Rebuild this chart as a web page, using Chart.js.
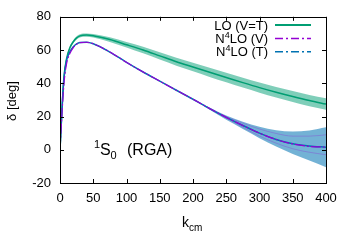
<!DOCTYPE html>
<html>
<head>
<meta charset="utf-8">
<script src="https://cdn.jsdelivr.net/npm/chart.js@4"></script>
<style>
  html, body { margin: 0; padding: 0; background: #fff; }
  #wrap { width: 350px; height: 245px; }
</style>
</head>
<body>
<div id="wrap"><canvas id="phaseChart" width="350" height="245"></canvas></div>
<script>
// momentum grid (k_cm) and phase shifts in degrees
const kcm = [0, 3, 6, 10, 15, 20, 25, 30, 40, 50, 75, 100, 125, 150, 175, 200, 225, 250, 275, 300, 325, 350, 375, 400];

const loCentral = [0, 24, 44, 55, 61.5, 65, 67.3, 68.5, 69, 68.6, 66.3, 63.2, 60, 56.5, 53, 49.8, 46.6, 43.5, 40.4, 37.4, 34.6, 32, 29.6, 27.5];
const loUpper = [0, 24.5, 44.7, 55.8, 62.4, 65.9, 68.3, 69.5, 70, 69.7, 67.7, 64.9, 62, 58.7, 55.4, 52.4, 49.4, 46.4, 43.4, 40.5, 37.8, 35.3, 33, 31];
const loLower = [0, 23.5, 43.3, 54.2, 60.6, 64.1, 66.3, 67.5, 68, 67.5, 64.9, 61.5, 58, 54.3, 50.6, 47.2, 43.8, 40.6, 37.4, 34.3, 31.4, 28.7, 26.2, 24];

const n4loV = [0, 22, 40, 52, 58, 61.5, 63.5, 64.5, 64.7, 63.8, 58.8, 52.6, 46.8, 41.3, 35.8, 30.4, 24.8, 19.5, 14.6, 10, 6.2, 3.5, 2, 1.6];
const n4loT = [0, 25, 43, 54, 59, 62, 63.7, 64.5, 64.7, 63.8, 58.8, 52.6, 46.8, 41.3, 35.8, 30.4, 24.8, 19.5, 14.6, 10, 6.2, 3.6, 2.3, 1.5];
// outer band (T) and the narrower inner band (V)
const n4loUpper = [null, null, null, null, null, null, null, null, null, null, null, null, null, null, null, 30.4, 25.5, 20.6, 16.8, 13.8, 11.8, 11, 11.6, 13.5];
const n4loLower = [null, null, null, null, null, null, null, null, null, null, null, null, null, null, null, 30.4, 24, 18, 12.5, 7, 2, -2.5, -6.5, -10.5];
const n4loInnerUp = [null, null, null, null, null, null, null, null, null, null, null, null, null, null, null, null, 25, 20, 16, 12.5, 9.8, 8.2, 8.2, 9];
const n4loInnerLo = [null, null, null, null, null, null, null, null, null, null, null, null, null, null, null, null, 24.6, 19, 13.5, 8.2, 4, 0.6, -1.5, -3];

const xTicks = [0, 50, 100, 150, 200, 250, 300, 350, 400];
const yTicks = [-20, 0, 20, 40, 60, 80];

const GREEN = '#009e73';
const PURPLE = '#9400d3';
const BLUE = '#0072b2';
const FONT = '"Liberation Sans", Arial, sans-serif';

function pts(ys) {
    return kcm.map((k, i) => ({ x: k, y: ys[i] }));
}

// draw a string made of normal / sup / sub pieces
function drawRich(ctx, parts, x, y, align) {
    let total = 0;
    parts.forEach(p => {
        ctx.font = p.size + 'px ' + FONT;
        p.w = ctx.measureText(p.t).width;
        total += p.w;
    });
    let cx = align === 'right' ? x - total : x;
    ctx.textAlign = 'left';
    ctx.textBaseline = 'alphabetic';
    parts.forEach(p => {
        ctx.font = p.size + 'px ' + FONT;
        ctx.fillText(p.t, p.x !== undefined ? p.x : cx, y + (p.dy || 0));
        cx += p.w;
    });
}

const decorations = {
    id: 'decorations',
    afterDraw(chart) {
        const ctx = chart.ctx;
        const a = chart.chartArea;
        const xs = chart.scales.x, ys = chart.scales.y;
        ctx.save();
        ctx.strokeStyle = '#000';
        ctx.lineWidth = 1;
        ctx.setLineDash([]);
        ctx.beginPath();
        xTicks.forEach(t => {
            const px = Math.round(xs.getPixelForValue(t)) + 0.5;
            ctx.moveTo(px, a.bottom); ctx.lineTo(px, a.bottom - 4);
            ctx.moveTo(px, a.top); ctx.lineTo(px, a.top + 4);
        });
        yTicks.forEach(t => {
            const py = Math.round(ys.getPixelForValue(t)) + 0.5;
            ctx.moveTo(a.left, py); ctx.lineTo(a.left + 4, py);
            ctx.moveTo(a.right, py); ctx.lineTo(a.right - 4, py);
        });
        ctx.stroke();
        ctx.strokeRect(Math.round(a.left) + 0.5, Math.round(a.top) + 0.5,
            Math.round(a.right - a.left), Math.round(a.bottom - a.top));

        // legend
        const rows = [
            { parts: [{ t: 'LO (V=T)', size: 13 }], color: GREEN, dash: [], width: 2 },
            { parts: [{ t: 'N', size: 13 }, { t: '4', size: 9, dy: -5 }, { t: 'LO (V)', size: 13 }], color: PURPLE, dash: [8, 3, 2, 3], width: 1.5 },
            { parts: [{ t: 'N', size: 13 }, { t: '4', size: 9, dy: -5 }, { t: 'LO (T)', size: 13 }], color: BLUE, dash: [8, 3, 2, 3], width: 1.5 }
        ];
        rows.forEach((r, i) => {
            const base = 29.5 + i * 13.4;
            ctx.fillStyle = '#000';
            drawRich(ctx, r.parts, 268, base, 'right');
            ctx.strokeStyle = r.color;
            ctx.lineWidth = r.width;
            ctx.setLineDash(r.dash);
            ctx.beginPath();
            ctx.moveTo(275, base - 4.5);
            ctx.lineTo(311, base - 4.5);
            ctx.stroke();
        });
        ctx.setLineDash([]);

        // channel label
        ctx.fillStyle = '#000';
        drawRich(ctx, [
            { t: '1', size: 11, dy: -7, x: 94 },
            { t: 'S', size: 16, x: 100 },
            { t: '0', size: 11, dy: 4, x: 110.5 },
            { t: '(RGA)', size: 16, x: 127 }
        ], 0, 155, 'left');

        // axis titles
        drawRich(ctx, [{ t: 'k', size: 14 }, { t: 'cm', size: 10, dy: 4 }], 182, 227, 'left');
        ctx.translate(12, 101);
        ctx.rotate(-Math.PI / 2);
        ctx.font = '13px ' + FONT;
        ctx.textAlign = 'center';
        ctx.textBaseline = 'middle';
        ctx.fillText('δ [deg]', 0, 0);
        ctx.restore();
    }
};

const ctx = document.getElementById('phaseChart').getContext('2d');
new Chart(ctx, {
    type: 'line',
    data: {
        datasets: [
            { data: pts(loUpper), borderWidth: 0, pointRadius: 0, fill: '+1', backgroundColor: 'rgba(0,158,115,0.5)', order: 7 },
            { data: pts(loLower), borderWidth: 0, pointRadius: 0, fill: false, order: 7 },
            { data: pts(n4loUpper), borderWidth: 0, pointRadius: 0, fill: '+1', backgroundColor: 'rgba(0,114,178,0.55)', order: 6 },
            { data: pts(n4loLower), borderWidth: 0, pointRadius: 0, fill: false, order: 6 },
            { data: pts(n4loInnerUp), borderColor: 'rgba(148,0,211,0.25)', borderWidth: 1, pointRadius: 0, fill: false, order: 5 },
            { data: pts(n4loInnerLo), borderColor: 'rgba(148,0,211,0.25)', borderWidth: 1, pointRadius: 0, fill: false, order: 5 },
            { data: pts(loCentral), borderColor: GREEN, borderWidth: 1.5, pointRadius: 0, fill: false, order: 3 },
            { data: pts(n4loT), borderColor: BLUE, borderWidth: 1.5, pointRadius: 0, fill: false, order: 2 },
            { data: pts(n4loV), borderColor: PURPLE, borderWidth: 1.2, borderDash: [10, 2, 2, 2], pointRadius: 0, fill: false, order: 1 }
        ]
    },
    options: {
        responsive: false,
        animation: false,
        cubicInterpolationMode: 'monotone',
        layout: { padding: { left: 0, top: 15, right: 24, bottom: 0 } },
        plugins: { legend: { display: false }, tooltip: { enabled: false } },
        scales: {
            x: {
                type: 'linear', min: 0, max: 400,
                grid: { display: false, drawTicks: false },
                border: { display: false },
                afterBuildTicks: s => { s.ticks = xTicks.map(v => ({ value: v })); },
                afterFit: s => { s.height = 62; },
                ticks: { color: '#000', font: { family: FONT, size: 13 }, padding: 8, maxRotation: 0 }
            },
            y: {
                min: -20, max: 80,
                grid: { display: false, drawTicks: false },
                border: { display: false },
                afterBuildTicks: s => { s.ticks = yTicks.map(v => ({ value: v })); },
                afterFit: s => { s.width = 60; },
                ticks: { color: '#000', font: { family: FONT, size: 13 }, padding: 9 }
            }
        }
    },
    plugins: [decorations]
});
</script>
</body>
</html>
